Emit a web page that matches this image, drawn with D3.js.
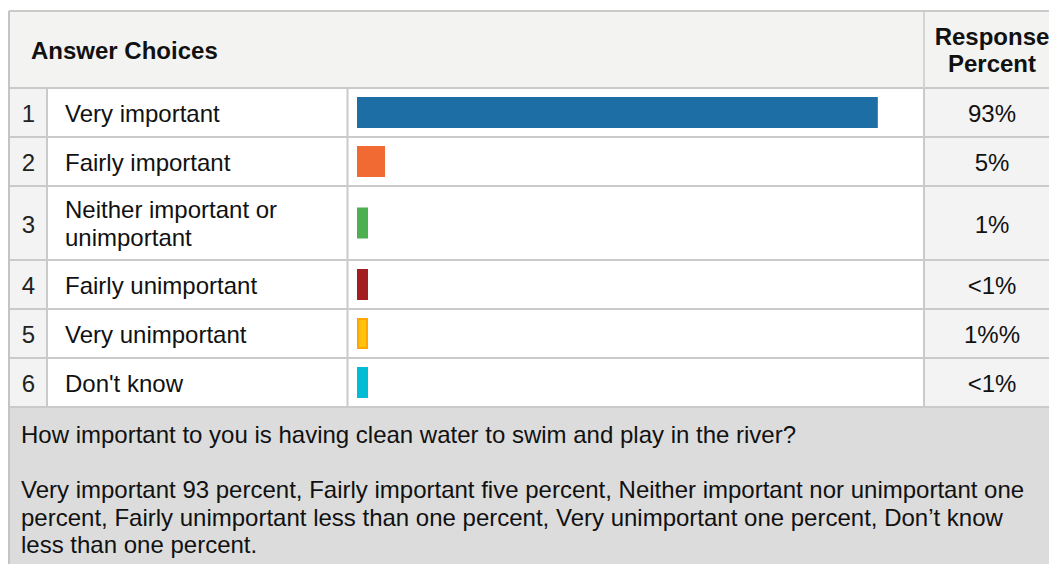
<!DOCTYPE html>
<html>
<head>
<meta charset="utf-8">
<script src="https://cdn.jsdelivr.net/npm/d3@7"></script>
<style>
  html, body { margin: 0; padding: 0; background: #ffffff; }
  svg { display: block; font-family: "Liberation Sans", Arial, Helvetica, sans-serif; }
</style>
</head>
<body>
<svg id="chart" width="1049" height="564"></svg>
<script>
// Survey answer choices and their response shares
const choiceNumbers = [1, 2, 3, 4, 5, 6];
const choiceLabels = [
  "Very important",
  "Fairly important",
  "Neither important or unimportant",
  "Fairly unimportant",
  "Very unimportant",
  "Don't know"
];
const responseValues = [93, 5, 1, 0.5, 1, 0.5];
const responseLabels = ["93%", "5%", "1%", "<1%", "1%%", "<1%"];
const barColors = ["#1c6ea5", "#f26a33", "#4caf50", "#a31e21", "#ffc20e", "#00bcd4"];
const barStrokes = [null, null, null, null, "#ffa500", null];

const headerLeft = "Answer Choices";
const headerRight = ["Response", "Percent"];

const footerLines = [
  "How important to you is having clean water to swim and play in the river?",
  "",
  "Very important 93 percent, Fairly important five percent, Neither important nor unimportant one",
  "percent, Fairly unimportant less than one percent, Very unimportant one percent, Don\u2019t know",
  "less than one percent."
];

// ---- layout ----
const W = 1049, H = 564;
const FONT = 24;
const LINE = 28;
const tableLeft = 9, tableTop = 11, headerBottom = 88;
const colNumEnd = 47, colLabelEnd = 347.5, colBarEnd = 924;
const labelX = 65, labelMaxW = 268;
const barX = 357, barH = 31, minBarW = 11;
const pctCenter = 992;
const borderColor = "#cacaca";

const svg = d3.select("#chart");

// x scale for bar lengths
const x = d3.scaleLinear().domain([0, 100]).range([0, 560]);

// wrap label text into lines using rendered widths
const measure = svg.append("text").attr("font-size", FONT).attr("visibility", "hidden");
function wrap(str, maxW) {
  const words = str.split(" ");
  const lines = [];
  let cur = "";
  words.forEach(w => {
    const test = cur ? cur + " " + w : w;
    measure.text(test);
    if (cur && measure.node().getComputedTextLength() > maxW) {
      lines.push(cur);
      cur = w;
    } else {
      cur = test;
    }
  });
  if (cur) lines.push(cur);
  return lines;
}
const wrapped = choiceLabels.map(s => wrap(s, labelMaxW));
measure.remove();

// row geometry from line counts
const rowHeights = wrapped.map(l => l.length > 1 ? 74 : 49);
const rowTops = [];
rowHeights.reduce((acc, h) => { rowTops.push(acc); return acc + h; }, headerBottom);
const tableBottom = headerBottom + d3.sum(rowHeights);

const rows = choiceNumbers.map((n, i) => ({
  n, lines: wrapped[i], value: responseValues[i], pct: responseLabels[i],
  color: barColors[i], stroke: barStrokes[i],
  top: rowTops[i], h: rowHeights[i], cy: rowTops[i] + rowHeights[i] / 2
}));

// ---- header ----
svg.append("rect").attr("x", tableLeft).attr("y", tableTop)
  .attr("width", W - tableLeft).attr("height", headerBottom - tableTop)
  .attr("fill", "#f3f3f2");
svg.append("text").attr("x", 31).attr("y", 58.5)
  .attr("font-size", FONT).attr("font-weight", "bold").attr("fill", "#111")
  .text(headerLeft);
svg.append("text").attr("text-anchor", "middle").attr("font-size", FONT)
  .attr("font-weight", "bold").attr("fill", "#111")
  .selectAll("tspan").data(headerRight).join("tspan")
  .attr("x", pctCenter).attr("y", (d, i) => 45 + i * 26.5).text(d => d);

// ---- body rows ----
const g = svg.append("g");
const row = g.selectAll("g.row").data(rows).join("g").attr("class", "row");

row.append("rect").attr("x", tableLeft).attr("y", d => d.top)
  .attr("width", colNumEnd - tableLeft).attr("height", d => d.h).attr("fill", "#f3f3f3");
row.append("rect").attr("x", colNumEnd).attr("y", d => d.top)
  .attr("width", colBarEnd - colNumEnd).attr("height", d => d.h).attr("fill", "#ffffff");
row.append("rect").attr("x", colBarEnd).attr("y", d => d.top)
  .attr("width", W - colBarEnd).attr("height", d => d.h).attr("fill", "#f3f3f3");

row.append("text").attr("x", 28.5).attr("y", d => d.cy + 9.5)
  .attr("text-anchor", "middle").attr("font-size", FONT).attr("fill", "#222")
  .text(d => d.n);

row.append("text").attr("font-size", FONT).attr("fill", "#111")
  .each(function (d) {
    const n = d.lines.length;
    d3.select(this).selectAll("tspan").data(d.lines).join("tspan")
      .attr("x", labelX)
      .attr("y", (l, i) => d.cy + 9 + (i - (n - 1) / 2) * LINE)
      .text(l => l);
  });

row.append("rect")
  .attr("x", d => barX + (d.stroke ? 1 : 0))
  .attr("y", d => d.cy - barH / 2 + (d.stroke ? 1 : 0))
  .attr("width", d => Math.max(x(d.value), minBarW) - (d.stroke ? 2 : 0))
  .attr("height", d => barH - (d.stroke ? 2 : 0))
  .attr("fill", d => d.color)
  .attr("stroke", d => d.stroke || "none")
  .attr("stroke-width", d => d.stroke ? 2 : 0);

row.append("text").attr("x", pctCenter).attr("y", d => d.cy + 9.5)
  .attr("text-anchor", "middle").attr("font-size", FONT).attr("fill", "#111")
  .text(d => d.pct);

// ---- grid lines ----
const hLines = [headerBottom].concat(rows.map(d => d.top + d.h));
svg.append("g").selectAll("line").data(hLines).join("line")
  .attr("x1", tableLeft).attr("x2", W)
  .attr("y1", d => d).attr("y2", d => d)
  .attr("stroke", borderColor).attr("stroke-width", 2);
svg.append("g").selectAll("line").data([colNumEnd, colLabelEnd, colBarEnd]).join("line")
  .attr("x1", d => d).attr("x2", d => d)
  .attr("y1", headerBottom).attr("y2", tableBottom)
  .attr("stroke", borderColor).attr("stroke-width", 2);
svg.append("line").attr("x1", colBarEnd).attr("x2", colBarEnd)
  .attr("y1", tableTop).attr("y2", headerBottom)
  .attr("stroke", "#d4d4d4").attr("stroke-width", 2);
svg.append("line").attr("x1", tableLeft).attr("x2", W)
  .attr("y1", tableTop).attr("y2", tableTop)
  .attr("stroke", borderColor).attr("stroke-width", 2);

// ---- footer ----
const footTop = tableBottom + 1;
svg.append("rect").attr("x", tableLeft).attr("y", footTop)
  .attr("width", W - tableLeft).attr("height", H - footTop).attr("fill", "#dcdcdc");
svg.append("text").attr("font-size", FONT).attr("fill", "#111")
  .selectAll("tspan").data(footerLines).join("tspan")
  .attr("x", 21).attr("y", (d, i) => 443 + i * 27.5).text(d => d);

// outer left border
svg.append("line").attr("x1", tableLeft).attr("x2", tableLeft)
  .attr("y1", tableTop).attr("y2", H)
  .attr("stroke", "#c4c4c4").attr("stroke-width", 2);
</script>
</body>
</html>
